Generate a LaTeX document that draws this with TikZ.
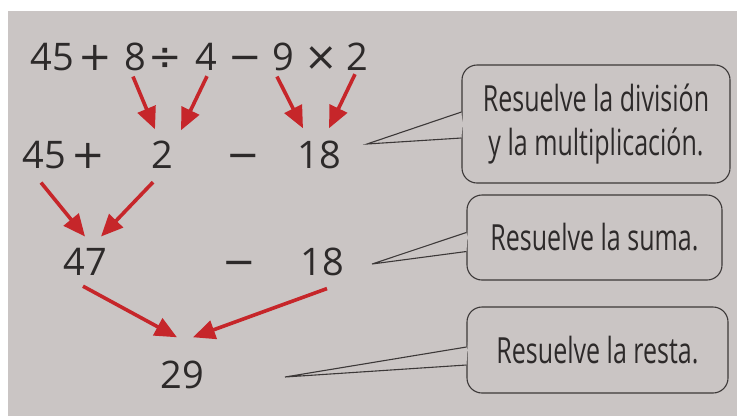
\documentclass[tikz,border=0pt]{standalone}
\usepackage{fontspec}
\setmainfont{Open Sans}
\newfontfamily\narrowfont[FakeStretch=0.695]{Open Sans}
\newfontfamily\opfont{DejaVu Sans}
\usetikzlibrary{arrows.meta}
\definecolor{bgc}{RGB}{202,197,196}
\definecolor{ink}{RGB}{45,42,42}
\definecolor{arrred}{RGB}{198,38,42}
\definecolor{boxline}{RGB}{60,56,56}
\begin{document}
\begin{tikzpicture}[x=1pt,y=-1pt,
  num/.style={anchor=base,inner sep=0pt,text=ink,font=\fontsize{38}{40}\selectfont},
  op/.style={anchor=base,inner sep=0pt,text=ink,font=\opfont\fontsize{40}{42}\selectfont},
  arr/.style={draw=arrred,line width=3.6pt,-{Triangle[length=22pt,width=19pt]}},
  bubble/.style={draw=boxline,line width=1.1pt,rounded corners=15pt,fill=none,
     text=ink,align=center,inner sep=0pt,font=\narrowfont\fontsize{36}{44}\selectfont},
  tailline/.style={draw=boxline,line width=1.1pt,line join=miter}]
\useasboundingbox (0,0) rectangle (737,416);
\fill[white] (0,0) rectangle (737,416);
\fill[bgc] (8,11) rectangle (737,416);
% row 1
\node[num] (e45) at (52,70) {45};
\node[op] (ep) at (95,70) {+};
\node[num] (e8) at (135,70) {8};
\node[op] (ed) at (165,70) {÷};
\node[num] (e4) at (206,70) {4};
\node[op] (em) at (245,70) {−};
\node[num] (e9) at (283,70) {9};
\node[op] (ex) at (321,70) {×};
\node[num] (e2) at (357,70) {2};
% row 2
\node[num] (s45) at (44,168) {45};
\node[op] (sp) at (88,168) {+};
\node[num] (t2) at (162,168) {2};
\node[op] (sm) at (243,168) {−};
\node[num] (t18) at (319,168) {18};
% row 3
\node[num] (f47) at (85,275) {47};
\node[op] (fm) at (239,275) {−};
\node[num] (f18) at (322,275) {18};
% row 4
\node[num] (r29) at (182,388) {29};
% arrows
\draw[arr] ([shift={(-2,6)}]e8.south) -- ([shift={(-7,-11)}]t2.north);
\draw[arr] ([shift={(1,6)}]e4.south) -- ([shift={(19,-10)}]t2.north);
\draw[arr] ([shift={(-6,6)}]e9.south) -- ([shift={(-16,-12)}]t18.north);
\draw[arr] ([shift={(-2,4)}]e2.south) -- ([shift={(10,-12)}]t18.north);
\draw[arr] ([shift={(-3,14)}]s45.south) -- ([shift={(0,-11)}]f47.north);
\draw[arr] ([shift={(-9,14)}]t2.south) -- ([shift={(16,-11)}]f47.north);
\draw[arr] ([shift={(-2,11)}]f47.south) -- ([shift={(-5,-23)}]r29.north);
\draw[arr] ([shift={(5,13)}]f18.south) -- ([shift={(11,-23)}]r29.north);
% callouts
\node[bubble,minimum width=268pt,minimum height=118pt] (b1) at (596,124)
  {Resuelve la división\\y la multiplicación.};
\node[bubble,minimum width=255pt,minimum height=85pt] (b2) at (594.5,237.5)
  {Resuelve la suma.};
\node[bubble,minimum width=261pt,minimum height=86pt] (b3) at (597.5,350)
  {Resuelve la resta.};
\coordinate (tip1) at (367,144);
\coordinate (tip2) at (372,264);
\coordinate (tip3) at (285,377);
\fill[bgc] ([yshift=-14]b1.west) -- (tip1) -- ([yshift=12]b1.west) -- ([shift={(2,12)}]b1.west) -- ([shift={(2,-14)}]b1.west) -- cycle;
\draw[tailline] ([yshift=-14]b1.west) -- (tip1) -- ([yshift=12]b1.west);
\fill[bgc] ([yshift=-14]b2.west) -- (tip2) -- ([yshift=5]b2.west) -- ([shift={(2,5)}]b2.west) -- ([shift={(2,-14)}]b2.west) -- cycle;
\draw[tailline] ([yshift=-14]b2.west) -- (tip2) -- ([yshift=5]b2.west);
\fill[bgc] ([yshift=-15]b3.west) -- (tip3) -- ([yshift=3]b3.west) -- ([shift={(2,3)}]b3.west) -- ([shift={(2,-15)}]b3.west) -- cycle;
\draw[tailline] ([yshift=-15]b3.west) -- (tip3) -- ([yshift=3]b3.west);
\end{tikzpicture}
\end{document}
